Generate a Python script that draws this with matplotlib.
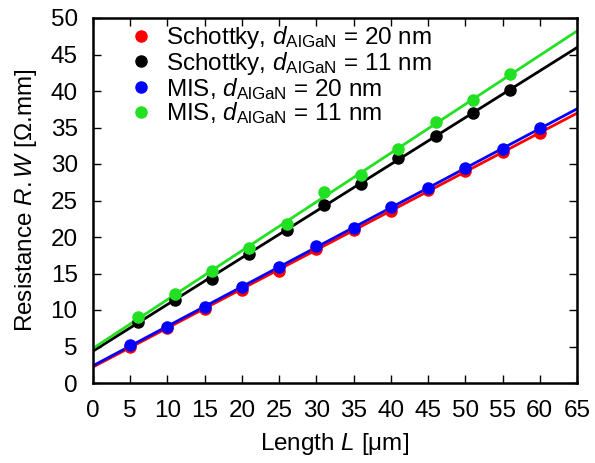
import numpy as np
import matplotlib
matplotlib.use("Agg")
import matplotlib.pyplot as plt

plt.rcParams['font.family'] = ['Liberation Sans', 'DejaVu Sans']
plt.rcParams['mathtext.fontset'] = 'custom'
plt.rcParams['mathtext.rm'] = 'Liberation Sans'
plt.rcParams['mathtext.it'] = 'Liberation Sans:italic'
plt.rcParams['mathtext.bf'] = 'Liberation Sans:bold'

# Data
L_20 = [5, 10, 15, 20, 25, 30, 35, 40, 45, 50, 55, 60]
schottky_20 = [5.0, 7.5, 10.2, 12.8, 15.4, 18.3, 20.9, 23.6, 26.4, 29.0, 31.6, 34.2]
mis_20 = [5.2, 7.7, 10.4, 13.2, 15.9, 18.7, 21.2, 24.1, 26.7, 29.4, 32.0, 35.0]
L_11 = [6, 11, 16, 21, 26, 31, 36, 41, 46, 51, 56]
schottky_11 = [8.4, 11.4, 14.3, 17.7, 21.0, 24.4, 27.3, 30.8, 33.8, 37.0, 40.1]
mis_11 = [9.0, 12.15, 15.3, 18.5, 21.8, 26.2, 28.5, 32.0, 35.8, 38.7, 42.3]

labels = [r"Schottky, $d_{\mathrm{AlGaN}}$ = 20 nm",
          r"Schottky, $d_{\mathrm{AlGaN}}$ = 11 nm",
          r"MIS, $d_{\mathrm{AlGaN}}$ = 20 nm",
          r"MIS, $d_{\mathrm{AlGaN}}$ = 11 nm"]
colors = ['#ff0000', '#000000', '#0000ff', '#22e022']
xs = [L_20, L_11, L_20, L_11]
ys = [schottky_20, schottky_11, mis_20, mis_11]

FS = 17.5
fig = plt.figure(figsize=(5.95, 4.63), dpi=100)
ax = fig.add_axes([93/595, 1-383/463, (577-93)/595, (383-18)/463])

xfit = np.array([0, 65])
for x, y, c, lab in zip(xs, ys, colors, labels):
    p = np.polyfit(x, y, 1)
    ax.plot(xfit, np.polyval(p, xfit), color=c, lw=2, zorder=2)
    ax.plot(x, y, 'o', color=c, ms=8, mec=c, label=lab, zorder=3)

ax.set_xlim(0, 65)
ax.set_ylim(0, 50)
ax.set_xticks(np.arange(0, 66, 5))
ax.set_yticks(np.arange(0, 51, 5))
ax.tick_params(direction='in', length=6, width=1, top=True, right=True,
               labelsize=FS)
ax.tick_params(axis='x', pad=12)
ax.tick_params(axis='y', pad=11)
for s in ax.spines.values():
    s.set_linewidth(1.8)

ax.set_xlabel(r"Length $L$ [μm]", fontsize=FS, labelpad=7)
ax.set_ylabel(r"Resistance $R.W$ [Ω.mm]", fontsize=FS, labelpad=8)

ax.legend(loc='upper left', frameon=False, fontsize=FS, handlelength=0.8,
          handletextpad=0.6, labelspacing=-0.05, borderaxespad=0.0,
          bbox_to_anchor=(0.06, 1.01))

fig.savefig("out.png", dpi=100)
